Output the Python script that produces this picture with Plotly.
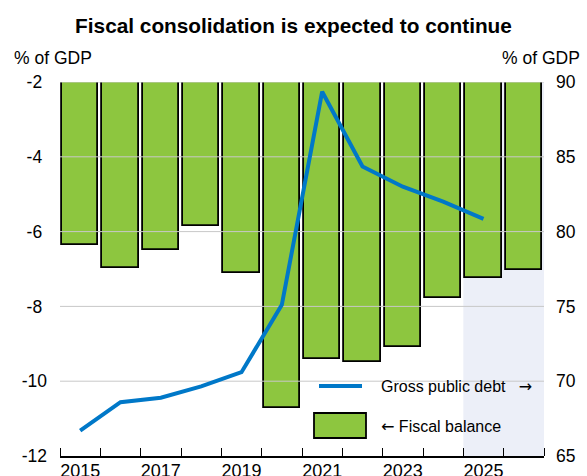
import plotly.graph_objects as go

years = list(range(2015, 2027))
fiscal_balance = [-6.36, -6.98, -6.49, -5.84, -7.12, -10.71, -9.41, -9.48, -9.08, -7.77, -7.24, -7.03]
debt_years = list(range(2015, 2026))
gross_debt = [66.7, 68.6, 68.9, 69.65, 70.6, 75.1, 89.35, 84.35, 83.0, 82.0, 80.85]
left_ticks = [-12, -10, -8, -6, -4, -2]
right_ticks = [65, 70, 75, 80, 85, 90]
label_years = [2015, 2017, 2019, 2021, 2023, 2025]
projection_start = 2024.5

GREEN = "#8DC63F"
BLUE = "#0078C8"
GRID = "#C8C8C8"
FONT = "Liberation Sans, Arial, sans-serif"
ARROW = '<span style="font-family:DejaVu Sans">{}</span>'

fig = go.Figure()

fig.add_trace(go.Bar(
    x=years, y=fiscal_balance, width=0.9,
    marker=dict(color=GREEN, line=dict(color="black", width=1.8)),
    name="← Fiscal balance", showlegend=False, yaxis="y",
))

# gridlines drawn above bars (as in the reference)
gx, gy = [], []
for t in left_ticks[1:]:
    gx += [years[0] - 0.5, years[-1] + 0.5, None]
    gy += [t, t, None]
fig.add_trace(go.Scatter(x=gx, y=gy, mode="lines", line=dict(color=GRID, width=1),
                         hoverinfo="skip", showlegend=False, yaxis="y"))

fig.add_trace(go.Scatter(
    x=debt_years, y=gross_debt, mode="lines",
    line=dict(color=BLUE, width=4),
    name="Gross public debt →", showlegend=False, yaxis="y2",
))

fig.add_shape(type="rect", xref="x", yref="paper", x0=projection_start, x1=years[-1] + 0.5,
              y0=0, y1=1, fillcolor="#ECEFF8", line=dict(width=0), layer="below")

# manual legend
fig.add_shape(type="line", xref="paper", yref="paper", x0=(319 - 60) / 484, x1=(362 - 60) / 484,
              y0=(456 - 386) / 374, y1=(456 - 386) / 374, line=dict(color=BLUE, width=4))
fig.add_shape(type="rect", xref="paper", yref="paper", x0=(314 - 60) / 484, x1=(366 - 60) / 484,
              y0=(456 - 438) / 374, y1=(456 - 413) / 374, fillcolor=GREEN,
              line=dict(color="black", width=1.8))
fig.add_annotation(text="Gross public debt\u00a0\u00a0\u00a0" + ARROW.format("→"), xref="paper", yref="paper",
                   x=(379 - 60) / 484, y=(456 - 386) / 374, xanchor="left", yanchor="middle",
                   showarrow=False, font=dict(size=16, color="black", family=FONT))
fig.add_annotation(text=ARROW.format("←") + " Fiscal balance", xref="paper", yref="paper",
                   x=(379 - 60) / 484, y=(456 - 426) / 374, xanchor="left", yanchor="middle",
                   showarrow=False, font=dict(size=16, color="black", family=FONT))

# axis unit labels
fig.add_annotation(text="% of GDP", xref="paper", yref="paper", x=(12 - 60) / 484, y=(456 - 57.5) / 374,
                   xanchor="left", yanchor="middle", showarrow=False,
                   font=dict(size=17.5, color="black", family=FONT))
fig.add_annotation(text="% of GDP", xref="paper", yref="paper", x=(582 - 60) / 484, y=(456 - 57.5) / 374,
                   xanchor="right", yanchor="middle", showarrow=False,
                   font=dict(size=17.5, color="black", family=FONT))

# left labels look centred: pad the two-character ones
left_text = [str(t) if len(str(t)) > 2 else str(t) + "\u00a0" for t in left_ticks]

fig.update_layout(
    width=587, height=476,
    margin=dict(l=60, r=43, t=82, b=20, autoexpand=False),
    paper_bgcolor="white", plot_bgcolor="white",
    font=dict(family=FONT, size=18, color="black"),
    title=dict(text="<b>Fiscal consolidation is expected to continue</b>", x=0.5, xanchor="center",
               y=1 - 26 / 476, yanchor="middle", font=dict(size=20.8, family=FONT, color="black")),
    bargap=0,
    xaxis=dict(range=[years[0] - 0.5, years[-1] + 0.5], tickmode="array", tickvals=label_years,
               ticktext=[str(y) for y in label_years], ticks="", showgrid=False, zeroline=False,
               showline=True, linecolor="black", linewidth=1.5, ticklabelstandoff=-2, automargin=False,
               tickfont=dict(size=18),
               minor=dict(tickmode="linear", tick0=years[0] - 0.5, dtick=1, ticks="inside",
                          ticklen=8, tickcolor="black", tickwidth=1, showgrid=False)),
    yaxis=dict(range=[left_ticks[0], left_ticks[-1]], tickmode="array", tickvals=left_ticks,
               ticktext=left_text, showgrid=False, zeroline=False, tickfont=dict(size=17.5),
               showline=False, ticks="", ticklabelstandoff=12, automargin=False),
    yaxis2=dict(range=[right_ticks[0], right_ticks[-1]], tickmode="array", tickvals=right_ticks,
                ticktext=[str(t) for t in right_ticks], overlaying="y", side="right",
                tickfont=dict(size=17.5),
                showgrid=False, zeroline=False, showline=False, ticks="", ticklabelstandoff=11,
                automargin=False),
)

fig.write_html("out.html", config={"displayModeBar": False},
               post_script="document.body.style.margin='0';")
